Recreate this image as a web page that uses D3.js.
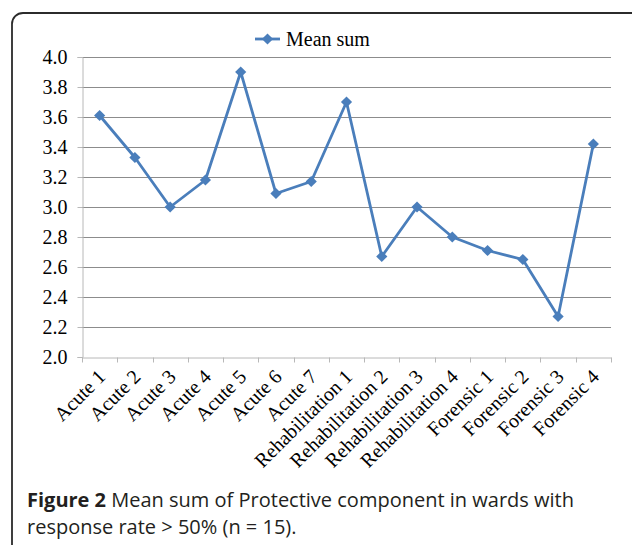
<!DOCTYPE html>
<html><head><meta charset="utf-8">
<script src="https://cdn.jsdelivr.net/npm/d3@7"></script>
<style>body{margin:0;background:#fff}svg{display:block}</style>
</head><body><svg id="c" width="632" height="545"></svg>
<script>
const categories = ["Acute 1","Acute 2","Acute 3","Acute 4","Acute 5","Acute 6","Acute 7","Rehabilitation 1","Rehabilitation 2","Rehabilitation 3","Rehabilitation 4","Forensic 1","Forensic 2","Forensic 3","Forensic 4"];
const meanSum = [3.61,3.33,3.00,3.18,3.90,3.09,3.17,3.70,2.67,3.00,2.80,2.71,2.65,2.27,3.42];
const yTicks = [2.0,2.2,2.4,2.6,2.8,3.0,3.2,3.4,3.6,3.8,4.0];
const seriesName = "Mean sum";
const captionBold = "Figure 2";
const captionLines = [" Mean sum of Protective component in wards with", "response rate > 50% (n = 15)."];

const svg = d3.select("#c");
const L = 82, R = 611, T = 57, B = 357;
const blue = "#4a7ebb";

svg.append("rect").attr("x",12).attr("y",13).attr("width",640).attr("height",620)
  .attr("rx",11).attr("fill","none").attr("stroke","#2b2b2b").attr("stroke-width",1.8);

const x = d3.scaleBand().domain(categories).range([L,R]);
const y = d3.scaleLinear().domain([2,4]).range([B,T]);

// gridlines
svg.append("g").selectAll("line").data(yTicks.filter(d=>d>2)).join("line")
  .attr("x1",L).attr("x2",R).attr("y1",d=>Math.round(y(d))+0.5).attr("y2",d=>Math.round(y(d))+0.5)
  .attr("stroke","#8c8c8c").attr("stroke-width",1);

// y axis
const ya = svg.append("g").attr("transform",`translate(${L+0.5},0)`)
  .call(d3.axisLeft(y).tickValues(yTicks).tickFormat(d3.format(".1f")).tickSize(5).tickPadding(10));
ya.select(".domain").attr("stroke","#b8b8b8");
ya.selectAll(".tick line").attr("stroke","#b8b8b8");
ya.selectAll("text").attr("font-family","Liberation Serif").attr("font-size",20).attr("fill","#000");

// x axis
const xa = svg.append("g").attr("transform",`translate(0,${B+0.5})`)
  .call(d3.axisBottom(x).tickSize(0).tickFormat(""));
xa.select(".domain").attr("stroke","#b8b8b8");
const bounds = categories.map(c=>x(c)).concat([R]);
xa.append("g").selectAll("line").data(bounds).join("line")
  .attr("x1",d=>Math.round(d)+0.5).attr("x2",d=>Math.round(d)+0.5).attr("y1",0).attr("y2",5)
  .attr("stroke","#b8b8b8");
svg.append("g").selectAll("text").data(categories).join("text")
  .attr("transform",d=>`translate(${x(d)+x.bandwidth()/2+7},${B+21}) rotate(-45)`)
  .attr("text-anchor","end").attr("font-family","Liberation Serif").attr("font-size",20).attr("fill","#000")
  .text(d=>d);

// line
const line = d3.line().x((d,i)=>x(categories[i])+x.bandwidth()/2).y(d=>y(d));
svg.append("path").datum(meanSum).attr("d",line).attr("fill","none").attr("stroke",blue)
  .attr("stroke-width",2.8).attr("stroke-linejoin","round");
const diamond = d3.symbol().type(d3.symbolDiamond2).size(80);
svg.append("g").selectAll("path").data(meanSum).join("path")
  .attr("transform",(d,i)=>`translate(${x(categories[i])+x.bandwidth()/2},${y(d)})`)
  .attr("d",diamond).attr("fill",blue);

// legend
svg.append("line").attr("x1",255).attr("x2",280).attr("y1",39).attr("y2",39).attr("stroke",blue).attr("stroke-width",2.8);
svg.append("path").attr("transform","translate(267.5,39)").attr("d",diamond).attr("fill",blue);
svg.append("text").attr("x",286).attr("y",46).attr("font-family","Liberation Serif").attr("font-size",20).text(seriesName);

// caption
const cap = svg.append("text").attr("x",27).attr("y",507).attr("font-family","Open Sans").attr("font-size",20).attr("fill","#231f20");
cap.append("tspan").attr("font-weight","bold").text(captionBold);
cap.append("tspan").text(captionLines[0]);
svg.append("text").attr("x",27).attr("y",534).attr("font-family","Open Sans").attr("font-size",20).attr("fill","#231f20").text(captionLines[1]);
</script></body></html>
